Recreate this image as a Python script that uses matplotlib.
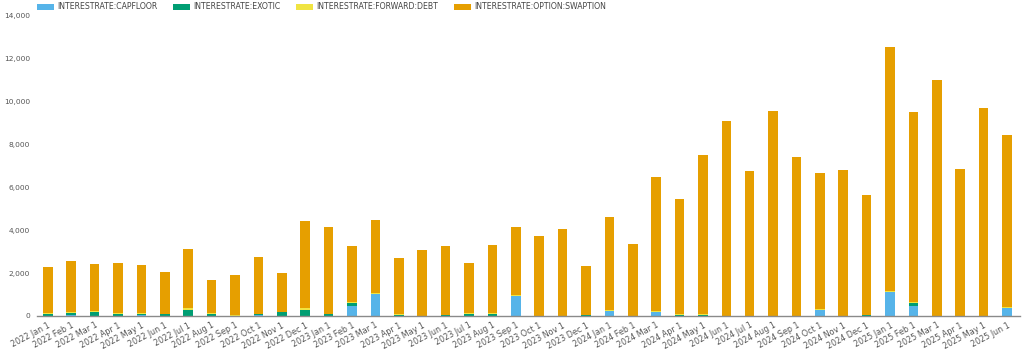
import numpy as np
import matplotlib.pyplot as plt
from matplotlib.ticker import FuncFormatter

months = ['2022 Jan 1', '2022 Feb 1', '2022 Mar 1', '2022 Apr 1', '2022 May 1', '2022 Jun 1',
          '2022 Jul 1', '2022 Aug 1', '2022 Sep 1', '2022 Oct 1', '2022 Nov 1', '2022 Dec 1',
          '2023 Jan 1', '2023 Feb 1', '2023 Mar 1', '2023 Apr 1', '2023 May 1', '2023 Jun 1',
          '2023 Jul 1', '2023 Aug 1', '2023 Sep 1', '2023 Oct 1', '2023 Nov 1', '2023 Dec 1',
          '2024 Jan 1', '2024 Feb 1', '2024 Mar 1', '2024 Apr 1', '2024 May 1', '2024 Jun 1',
          '2024 Jul 1', '2024 Aug 1', '2024 Sep 1', '2024 Oct 1', '2024 Nov 1', '2024 Dec 1',
          '2025 Jan 1', '2025 Feb 1', '2025 Mar 1', '2025 Apr 1', '2025 May 1', '2025 Jun 1']

capfloor = [0, 60, 0, 0, 40, 0, 0, 0, 0, 30, 0, 20,
            0, 450, 1020, 0, 0, 0, 0, 0, 930, 0, 0, 0,
            230, 0, 170, 0, 0, 0, 0, 0, 0, 260, 0, 0,
            1120, 450, 0, 0, 0, 350]
exotic = [100, 80, 200, 80, 70, 70, 300, 110, 10, 50, 170, 280,
          80, 160, 0, 60, 10, 30, 80, 90, 0, 0, 0, 40,
          0, 0, 0, 60, 50, 0, 0, 0, 0, 0, 0, 40,
          0, 140, 0, 0, 0, 0]
forward_debt = [40, 40, 40, 40, 40, 40, 50, 30, 20, 30, 30, 50,
                30, 60, 60, 30, 10, 20, 40, 30, 40, 20, 10, 20,
                50, 10, 50, 40, 40, 20, 0, 0, 0, 50, 0, 20,
                50, 60, 0, 0, 0, 60]
swaption = [2130, 2380, 2190, 2340, 2220, 1940, 2760, 1520, 1870, 2630, 1810, 4080,
            4050, 2570, 3370, 2630, 3060, 3220, 2340, 3190, 3180, 3690, 4030, 2260,
            4330, 3340, 6240, 5340, 7380, 9050, 6760, 9540, 7410, 6340, 6800, 5590,
            11350, 8830, 10980, 6850, 9670, 8020]

series = [('INTERESTRATE:CAPFLOOR', capfloor, '#56B4E9'),
          ('INTERESTRATE:EXOTIC', exotic, '#009E73'),
          ('INTERESTRATE:FORWARD:DEBT', forward_debt, '#F0E442'),
          ('INTERESTRATE:OPTION:SWAPTION', swaption, '#E69F00')]

plt.rcParams['font.family'] = ['DejaVu Sans']

fig = plt.figure(figsize=(10.24, 3.49), dpi=100)
ax = fig.add_axes([0.036, 0.0946, 0.96, 0.862])

x = np.arange(len(months))
bottom = np.zeros(len(months))
for name, vals, color in series:
    vals = np.array(vals, dtype=float)
    ax.bar(x, vals, width=0.41, bottom=bottom, color=color, label=name, linewidth=0)
    bottom += vals

ax.set_xlim(-0.47, len(months) - 0.45)
ax.set_ylim(0, 14000)
ax.set_yticks(range(0, 14001, 2000))
ax.yaxis.set_major_formatter(FuncFormatter(lambda v, p: f'{int(v):,}'))

ax.set_xticks(x)
ax.set_xticklabels(months, rotation=28, ha='right', rotation_mode='anchor')
ax.tick_params(axis='both', length=0, labelcolor='#555555')
ax.tick_params(axis='x', pad=3.5, labelsize=5.8)
ax.tick_params(axis='y', pad=5, labelsize=5.4)

for s in ['top', 'right', 'left']:
    ax.spines[s].set_visible(False)
ax.spines['bottom'].set_color('#8a8a8a')
ax.spines['bottom'].set_linewidth(1)

fig.legend(loc='center left', bbox_to_anchor=(0.036, 0.98), ncol=4, frameon=False,
           fontsize=5.6, handlelength=2.2, handleheight=0.9, columnspacing=2.0,
           handletextpad=0.4, labelcolor='#444444', borderpad=0, borderaxespad=0)

plt.savefig('out.png', dpi=100)
